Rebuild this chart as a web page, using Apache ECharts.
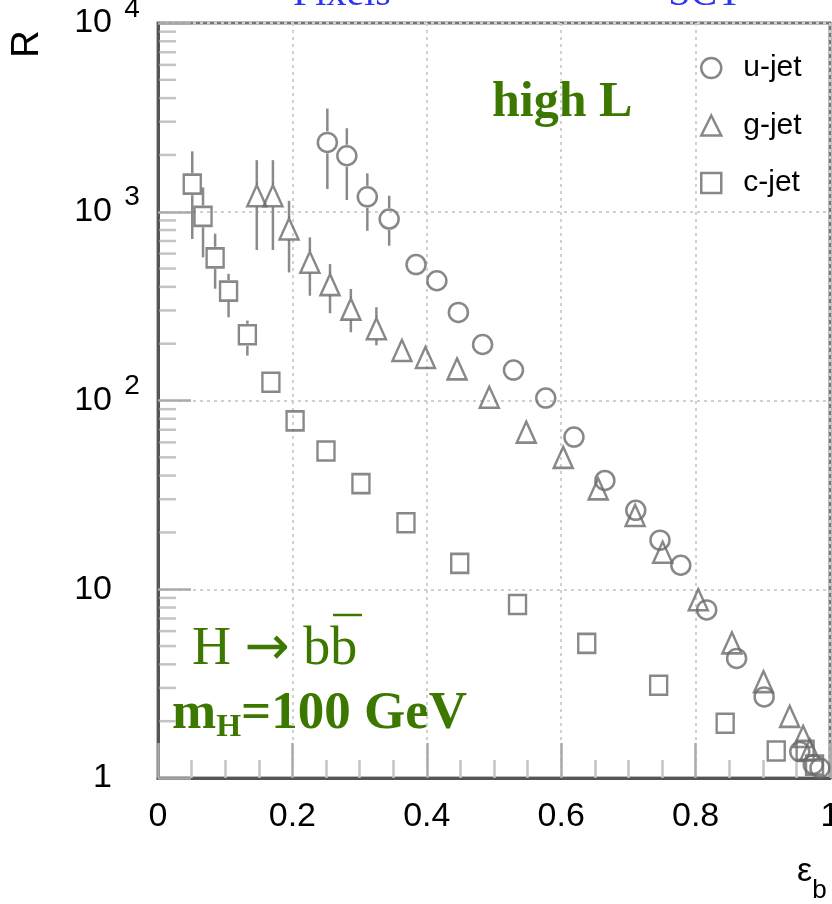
<!DOCTYPE html>
<html><head><meta charset="utf-8">
<script src="https://cdn.jsdelivr.net/npm/echarts@6/dist/echarts.min.js"></script>
<style>html,body{margin:0;padding:0;background:#fff}#c{width:832px;height:904px}</style>
</head><body><div id="c"></div>
<script>
// ---- data ----
const uX  = [0.252, 0.281, 0.3115, 0.344, 0.384, 0.415, 0.447, 0.483, 0.529, 0.577, 0.619, 0.665, 0.711, 0.747, 0.778, 0.8165, 0.861, 0.902, 0.955, 0.975, 0.985];
const uY  = [2330, 1980, 1200, 915, 525, 431, 293, 198, 145, 103, 64, 37.7, 26.2, 18.2, 13.4, 7.77, 4.30, 2.69, 1.38, 1.18, 1.13];
const uLo = [1320, 1153, 793, 661, null, null, null, null, null, null, null, null, null, null, null, null, null, null, null, null, null];
const uHi = [3520, 2770, 1597, 1216, null, null, null, null, null, null, null, null, null, null, null, null, null, null, null, null, null];

const gX  = [0.147, 0.171, 0.195, 0.226, 0.256, 0.287, 0.325, 0.363, 0.398, 0.445, 0.493, 0.548, 0.603, 0.655, 0.710, 0.751, 0.804, 0.854, 0.901, 0.940, 0.960, 0.970];
const gY  = [1216, 1216, 810, 540, 411, 305, 240, 184, 169, 147, 104, 68, 50, 34, 24.6, 15.7, 8.8, 5.2, 3.24, 2.12, 1.66, 1.41];
const gLo = [627, 627, 477, 359, 290, 230, 196, null, null, null, null, null, null, null, null, null, null, null, null, null, null, null];
const gHi = [1877, 1877, 1143, 731, 528, 390, 312, null, null, null, null, null, null, null, null, null, null, null, null, null, null, null];

const cX  = [0.051, 0.067, 0.085, 0.105, 0.133, 0.168, 0.204, 0.250, 0.302, 0.369, 0.449, 0.535, 0.638, 0.745, 0.844, 0.920, 0.963, 0.977];
const cY  = [1400, 945, 570, 380, 223, 125, 78, 54, 36.3, 22.5, 13.7, 8.3, 5.17, 3.1, 1.95, 1.39, 1.40, 1.17];
const cLo = [717, 573, 391, 276, 173, null, null, null, null, null, null, null, null, null, null, null, null, null];
const cHi = [2090, 1345, 765, 469, 265, null, null, null, null, null, null, null, null, null, null, null, null, null];

const seriesNames = ['u-jet', 'g-jet', 'c-jet'];
const xTickLabels = ['0', '0.2', '0.4', '0.6', '0.8', '1'];
const yTickBase = ['1', '10', '10', '10', '10'];
const yTickSup  = ['', '', '2', '3', '4'];
const yMinorMult = [2, 3, 4, 5, 6, 7, 8, 9];
const yDecades = [1, 10, 100, 1000];

// ---- build ----
const GREEN = '#3c7800';
const MARK = '#6a6a6a';
const pts = (xs, ys) => xs.map((x, i) => [x, ys[i]]);
const errs = (xs, ys, lo, hi) => xs.map((x, i) => [x, ys[i], lo[i], hi[i]]).filter(d => d[2] != null);
const yMinorTicks = [];
yDecades.forEach(d => yMinorMult.forEach(m => yMinorTicks.push([0, d * m])));

function errItem(params, api) {
  const x = api.value(0), y = api.value(1), lo = api.value(2), hi = api.value(3);
  const c = api.coord([x, y]), a = api.coord([x, hi]), b = api.coord([x, lo]);
  const g = 11, ch = [];
  const st = { stroke: '#8a8a8a', lineWidth: 2.5 };
  if (a[1] < c[1] - g) ch.push({ type: 'line', shape: { x1: c[0], y1: a[1], x2: c[0], y2: c[1] - g }, style: st });
  if (b[1] > c[1] + g) ch.push({ type: 'line', shape: { x1: c[0], y1: c[1] + g, x2: c[0], y2: b[1] }, style: st });
  return { type: 'group', children: ch };
}
function minorItem(params, api) {
  const c = api.coord([api.value(0), api.value(1)]);
  return { type: 'line', shape: { x1: c[0] + 1.5, y1: c[1], x2: c[0] + 18, y2: c[1] }, style: { stroke: '#c4c4c4', lineWidth: 2.5 } };
}
const errSeries = (data) => ({ type: 'custom', renderItem: errItem, data, encode: { x: 0, y: [1, 2, 3] }, silent: true, z: 2 });
const markStyle = { color: 'rgba(0,0,0,0)', borderColor: MARK, borderWidth: 2.5 };

const LABEL_FONT = "'Liberation Sans Narrow', 'Liberation Sans', sans-serif";
const chart = echarts.init(document.getElementById('c'));
chart.setOption({
  animation: false,
  backgroundColor: '#fff',
  grid: { left: 158, top: 23, right: 2, bottom: 126, show: true, borderColor: '#777', borderWidth: 3, outerBoundsMode: 'none', containLabel: false },
  xAxis: {
    type: 'value', min: 0, max: 1, interval: 0.2,
    axisLine: { lineStyle: { color: '#555', width: 3 } },
    axisTick: { inside: true, length: 35, lineStyle: { color: '#aaa', width: 2.5 } },
    minorTick: { show: true, splitNumber: 4, length: 18, lineStyle: { color: '#c4c4c4', width: 2.5 } },
    splitLine: { show: true, lineStyle: { color: '#d0d0d0', width: 2, type: [3, 4] } },
    axisLabel: {
      margin: 22, fontSize: 34, lineHeight: 34, color: '#000', fontFamily: LABEL_FONT,
      formatter: v => xTickLabels[Math.round(v / 0.2)]
    }
  },
  yAxis: {
    type: 'log', logBase: 10, min: 1, max: 10000,
    axisLine: { lineStyle: { color: '#555', width: 3 } },
    axisTick: { inside: true, length: 33, lineStyle: { color: '#aaa', width: 2.5 } },
    splitLine: { show: true, lineStyle: { color: '#d0d0d0', width: 2, type: [3, 4] } },
    axisLabel: {
      margin: 18,
      formatter: v => { const e = Math.round(Math.log10(v)); return '{b|' + yTickBase[e] + '}{s|' + (yTickSup[e] || ' ') + '}'; },
      rich: {
        b: { fontSize: 34, lineHeight: 56, color: '#000', fontFamily: LABEL_FONT },
        s: { fontSize: 28, lineHeight: 28, color: '#000', fontFamily: LABEL_FONT, verticalAlign: 'top', width: 16, align: 'left', padding: [0, 0, 0, 12] }
      }
    }
  },
  legend: {
    orient: 'vertical', left: 700, top: 53, padding: 0, itemWidth: 20, itemHeight: 20, itemGap: 27.5,
    data: seriesNames,
    itemStyle: { color: 'rgba(0,0,0,0)', borderColor: MARK, borderWidth: 2.5 },
    textStyle: { fontSize: 30, lineHeight: 22, color: '#000', fontFamily: "'Liberation Sans', sans-serif", padding: [0, 0, 0, 17] }
  },
  graphic: [
    { type: 'text', x: 342, y: -6, style: { text: 'Pixels', fontSize: 40, fontFamily: 'Liberation Serif', fill: '#2b35f5', align: 'center', verticalAlign: 'middle' } },
    { type: 'text', x: 705, y: -6, style: { text: 'SCT', fontSize: 40, fontFamily: 'Liberation Serif', fill: '#2b35f5', align: 'center', verticalAlign: 'middle' } },
    { type: 'text', x: 492, y: 103, style: { text: 'high L', fontSize: 50, fontWeight: 'bold', fontFamily: 'Liberation Serif', fill: GREEN, align: 'left', verticalAlign: 'middle' } },
    { type: 'text', x: 192, y: 650, style: {
        text: '{t|H }{a|\u2192}{t| bb}', align: 'left', verticalAlign: 'middle',
        rich: {
          t: { fontSize: 54, fontFamily: 'Liberation Serif', fill: GREEN, lineHeight: 60, verticalAlign: 'middle' },
          a: { fontSize: 54, fontFamily: 'DejaVu Sans', fill: GREEN, lineHeight: 60, verticalAlign: 'middle' }
        } } },
    { type: 'line', shape: { x1: 333, y1: 615, x2: 362, y2: 615 }, style: { stroke: GREEN, lineWidth: 2.5 } },
    { type: 'text', x: 172, y: 714, style: {
        text: '{m|m}{h|H}{m|=100 GeV}', align: 'left', verticalAlign: 'middle',
        rich: {
          m: { fontSize: 53, fontWeight: 'bold', fontFamily: 'Liberation Serif', fill: GREEN, lineHeight: 60, verticalAlign: 'middle' },
          h: { fontSize: 32, fontWeight: 'bold', fontFamily: 'Liberation Serif', fill: GREEN, lineHeight: 20, verticalAlign: 'bottom' }
        } } },
    { type: 'text', x: 28, y: 44, rotation: Math.PI / 2, style: { text: 'R', fontSize: 38, fontFamily: 'Liberation Sans', fill: '#000', align: 'center', verticalAlign: 'middle' } },
    { type: 'text', x: 797, y: 872, style: {
        text: '{e|\u03b5}{b|b}', align: 'left', verticalAlign: 'middle',
        rich: {
          e: { fontSize: 34, fontFamily: 'Liberation Sans', fill: '#000', lineHeight: 64, verticalAlign: 'middle' },
          b: { fontSize: 26, fontFamily: 'Liberation Sans', fill: '#000', lineHeight: 20, verticalAlign: 'bottom' }
        } } }
  ],
  series: [
    { type: 'custom', renderItem: minorItem, data: yMinorTicks, silent: true, z: 1 },
    errSeries(errs(uX, uY, uLo, uHi)),
    errSeries(errs(gX, gY, gLo, gHi)),
    errSeries(errs(cX, cY, cLo, cHi)),
    { name: seriesNames[0], type: 'scatter', symbol: 'circle', symbolSize: 19, data: pts(uX, uY), itemStyle: markStyle, z: 3 },
    { name: seriesNames[1], type: 'scatter', symbol: 'triangle', symbolSize: [19, 21], data: pts(gX, gY), itemStyle: markStyle, z: 3 },
    { name: seriesNames[2], type: 'scatter', symbol: 'rect', symbolSize: [17, 19], data: pts(cX, cY), itemStyle: markStyle, z: 3 }
  ]
});
</script></body></html>
